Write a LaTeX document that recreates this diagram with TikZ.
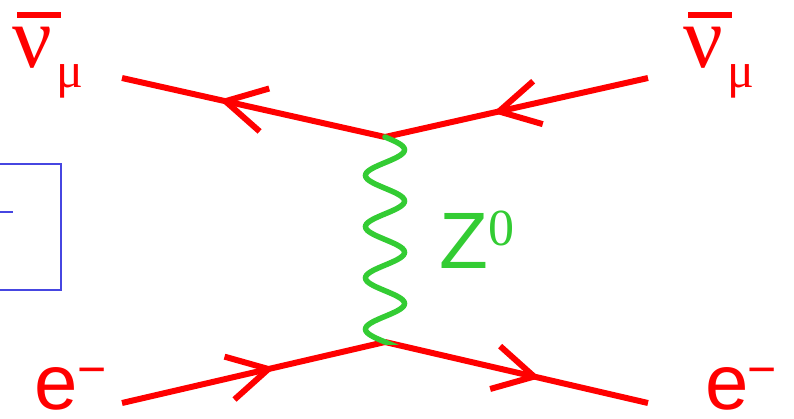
\documentclass[tikz,border=0pt]{standalone}
\usepackage{fontspec}
\setmainfont{Liberation Serif}
\newfontfamily\arialf{Liberation Sans}
\usetikzlibrary{arrows.meta,decorations.markings}
\definecolor{fred}{RGB}{255,0,0}
\definecolor{fgreen}{RGB}{51,204,51}
\definecolor{fblue}{RGB}{70,70,225}
\tikzset{
  fermion/.style={draw=fred, line width=6pt, postaction={decorate},
    decoration={markings, mark=at position #1 with {\arrow[fred]{Straight Barb[length=40pt,width=44pt]}}}},
  boson/.style={draw=fgreen, line width=5.5pt, line cap=round},
  lbl/.style={inner sep=0pt, outer sep=0pt, text=fred},
  barline/.style={draw=fred, line width=6pt}
}
\begin{document}
\begin{tikzpicture}[x=1pt,y=-1pt]
\useasboundingbox (0,0) rectangle (794,418);
% vertices and ends
\coordinate (vt) at (385,137);
\coordinate (vb) at (385,342);
\coordinate (tl) at (122,78);
\coordinate (tr) at (648,78);
\coordinate (bl) at (122,403);
\coordinate (br) at (648,403);
% blue box fragment
\draw[fblue, line width=1.5pt] (-5,164) rectangle (61,290);
\coordinate (bd1) at (-2,212);
\coordinate (bd2) at (13,212);
\draw[fblue, line width=2.5pt] (bd1) -- (bd2);
% fermion lines
\draw[fermion=0.63] (vt) -- (tl);
\draw[fermion=0.59] (tr) -- (vt);
\draw[fermion=0.58] (bl) -- (vb);
\draw[fermion=0.59] (vb) -- (br);
% boson (4 full waves from vt to vb)
\draw[boson] (vt) -- plot[domain=0:205, samples=161, smooth]
  ({385+19.5*sin(7.0244*\x)}, {137+\x}) -- (vb);
% labels
\node[lbl, font=\fontsize{88}{88}\selectfont] (nul) at (32.5,48) {ν};
\node[lbl, font=\fontsize{50}{50}\selectfont] (mul) at (70,81.5) {μ};
\coordinate (bl1) at (17,15);
\coordinate (bl2) at (61,15);
\draw[barline] (bl1) -- (bl2);
\node[lbl, font=\fontsize{88}{88}\selectfont] (nur) at (703,48) {ν};
\node[lbl, font=\fontsize{50}{50}\selectfont] (mur) at (741,81.5) {μ};
\coordinate (br1) at (688,15);
\coordinate (br2) at (732,15);
\draw[barline] (br1) -- (br2);
\node[lbl, font=\arialf\fontsize{78}{78}\selectfont] (el) at (56,389) {e};
\node[lbl, font=\arialf\fontsize{50}{50}\selectfont] (ml) at (92.5,377) {−};
\node[lbl, font=\arialf\fontsize{78}{78}\selectfont] (er) at (727,389) {e};
\node[lbl, font=\arialf\fontsize{50}{50}\selectfont] (mr) at (762.5,377) {−};
\node[lbl, text=fgreen, font=\arialf\fontsize{80}{80}\selectfont] (z) at (463.5,240.5) {Z};
\node[lbl, text=fgreen, font=\fontsize{52}{52}\selectfont] (z0) at (501.5,228) {0};
\end{tikzpicture}
\end{document}
